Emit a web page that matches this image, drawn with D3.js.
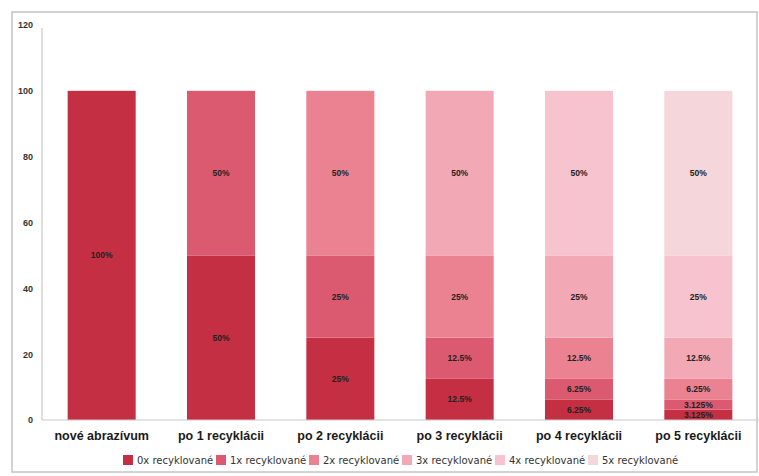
<!DOCTYPE html>
<html>
<head>
<meta charset="utf-8">
<script src="https://cdn.jsdelivr.net/npm/d3@7"></script>
<style>
  html, body { margin: 0; padding: 0; background: #fff; }
  svg { display: block; }
</style>
</head>
<body>
<svg id="chart" width="759" height="476"></svg>
<script>
// Share of abrasive by number of recycling passes
const categories = ["nové abrazívum", "po 1 recyklácii", "po 2 recyklácii",
                    "po 3 recyklácii", "po 4 recyklácii", "po 5 recyklácii"];
const seriesNames = ["0x recyklované", "1x recyklované", "2x recyklované",
                     "3x recyklované", "4x recyklované", "5x recyklované"];
const recycled0 = [100, 50, 25, 12.5, 6.25, 3.125];
const recycled1 = [0, 50, 25, 12.5, 6.25, 3.125];
const recycled2 = [0, 0, 50, 25, 12.5, 6.25];
const recycled3 = [0, 0, 0, 50, 25, 12.5];
const recycled4 = [0, 0, 0, 0, 50, 25];
const recycled5 = [0, 0, 0, 0, 0, 50];
const yTicks = [0, 20, 40, 60, 80, 100, 120];
const colors = ["#c42f43", "#dc5a70", "#ea8292", "#f3a8b5", "#f6c3ce", "#f5d6da"];

const seriesValues = [recycled0, recycled1, recycled2, recycled3, recycled4, recycled5];
const rows = categories.map((c, i) => {
  const r = { category: c };
  seriesNames.forEach((s, k) => { r[s] = seriesValues[k][i]; });
  return r;
});

const svg = d3.select("#chart");

// outer frame
svg.append("rect")
  .attr("x", 12).attr("y", 12).attr("width", 745).attr("height", 460)
  .attr("fill", "none").attr("stroke", "#c4c4c4").attr("stroke-width", 1.5);

const x = d3.scaleBand().domain(categories).range([42, 758]).paddingInner(0.43).paddingOuter(0.215);
const y = d3.scaleLinear().domain([0, 120]).range([420, 25]);
const color = d3.scaleOrdinal().domain(seriesNames).range(colors);

const stacked = d3.stack().keys(seriesNames)(rows);

// bars
const layers = svg.append("g").selectAll("g").data(stacked).join("g")
  .attr("fill", d => color(d.key));
layers.selectAll("rect").data(d => d.filter(p => p[1] - p[0] > 0)).join("rect")
  .attr("x", d => x(d.data.category))
  .attr("width", x.bandwidth())
  .attr("y", d => y(d[1]))
  .attr("height", d => y(d[0]) - y(d[1]));

// value labels
const labels = svg.append("g")
  .attr("font-family", "'Liberation Sans', Arial, sans-serif")
  .attr("font-size", 8.5).attr("font-weight", "bold").attr("fill", "#222")
  .attr("text-anchor", "middle");
stacked.forEach(layer => {
  layer.filter(p => p[1] - p[0] > 0).forEach(p => {
    labels.append("text")
      .attr("x", x(p.data.category) + x.bandwidth() / 2)
      .attr("y", y((p[0] + p[1]) / 2))
      .attr("dy", "0.35em")
      .text((p[1] - p[0]) + "%");
  });
});

// y axis
const yAxis = svg.append("g").attr("transform", "translate(42,0)")
  .call(d3.axisLeft(y).tickValues(yTicks).tickSize(0).tickPadding(9));
yAxis.select(".domain").attr("stroke", "#c8c8c8").attr("stroke-width", 1.2)
  .attr("d", `M0,${y(0)}V28`);
yAxis.selectAll("text")
  .attr("font-family", "'Liberation Sans', Arial, sans-serif")
  .attr("font-size", 9).attr("font-weight", "bold").attr("fill", "#333");

// x axis
const xAxis = svg.append("g").attr("transform", `translate(0,${y(0)})`)
  .call(d3.axisBottom(x).tickSize(0).tickPadding(11));
xAxis.select(".domain").attr("stroke", "#c8c8c8").attr("stroke-width", 1.2)
  .attr("d", "M42,0H759");
xAxis.selectAll("text")
  .attr("font-family", "'Liberation Sans', Arial, sans-serif")
  .attr("font-size", 12.5).attr("font-weight", "bold").attr("fill", "#1a1a1a");

// legend
const legend = svg.append("g")
  .attr("font-family", "'DejaVu Sans', Verdana, sans-serif")
  .attr("font-size", 10).attr("fill", "#333");
seriesNames.forEach((s, i) => {
  const lx = 123 + i * 93;
  const g = legend.append("g").attr("transform", `translate(${lx},455)`);
  g.append("rect").attr("width", 10).attr("height", 10).attr("fill", color(s));
  g.append("text").attr("x", 14).attr("y", 5).attr("dy", "0.35em").text(s);
});
</script>
</body>
</html>
